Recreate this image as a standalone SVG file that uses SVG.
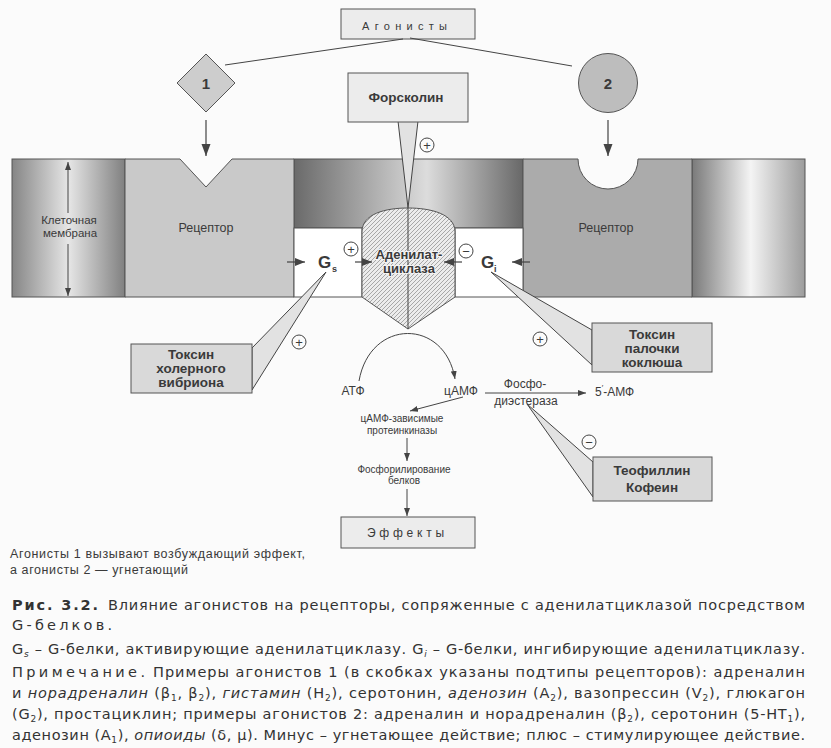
<svg xmlns="http://www.w3.org/2000/svg" width="831" height="748" viewBox="0 0 831 748">
<defs>
<style>
.t{font-family:"Liberation Sans",Arial,sans-serif;fill:#3a3a3a}
.b{font-weight:bold}
.box{fill:#ececec;stroke:#555;stroke-width:1}
.gbox{fill:#d9d9d9;stroke:#555;stroke-width:1}
.wedge{fill:#e2e2e2;stroke:#444;stroke-width:1}
.ln{stroke:#444;stroke-width:1;fill:none}
.edge{stroke:#444;stroke-width:1.2;fill:none}
.sym{fill:none;stroke:#444;stroke-width:1}
.cap{font-family:"DejaVu Sans","Liberation Sans",Arial,sans-serif;font-size:14.5px;fill:#333}
.tox{font-size:13.5px;font-weight:bold;text-anchor:middle}
</style>
<linearGradient id="gL" x1="0" x2="1" y1="0" y2="0">
<stop offset="0" stop-color="#858585"/><stop offset="0.5" stop-color="#e6e6e6"/><stop offset="1" stop-color="#808080"/>
</linearGradient>
<linearGradient id="gM" x1="0" x2="1" y1="0" y2="0">
<stop offset="0" stop-color="#6a6a6a"/><stop offset="0.58" stop-color="#dcdcdc"/><stop offset="1" stop-color="#686868"/>
</linearGradient>
<linearGradient id="gR" x1="0" x2="1" y1="0" y2="0">
<stop offset="0" stop-color="#7a7a7a"/><stop offset="0.52" stop-color="#f4f4f4"/><stop offset="1" stop-color="#9c9c9c"/>
</linearGradient>
<pattern id="hatch" width="4" height="4" patternUnits="userSpaceOnUse">
<rect width="4" height="4" fill="#ececec"/>
<path d="M-1,1 L1,-1 M0,4 L4,0 M3,5 L5,3" stroke="#8a8a8a" stroke-width="0.7"/>
</pattern>
<marker id="big" markerUnits="userSpaceOnUse" markerWidth="12" markerHeight="18" refX="16" refY="6" orient="auto" viewBox="0 0 16 12">
<path d="M0,0 L16,6 L0,12 Z" fill="#444"/>
</marker>
<marker id="mid" markerUnits="userSpaceOnUse" markerWidth="10" markerHeight="8" refX="10" refY="4" orient="auto" viewBox="0 0 10 8">
<path d="M0,0 L10,4 L0,8 Z" fill="#444"/>
</marker>
<marker id="sm" markerUnits="userSpaceOnUse" markerWidth="8" markerHeight="6" refX="8" refY="3" orient="auto" viewBox="0 0 8 6">
<path d="M0,0 L8,3 L0,6 Z" fill="#444"/>
</marker>
</defs>
<rect width="831" height="748" fill="#fbfbfb"/>

<g id="membrane">
<rect id="membrane-left" x="12" y="159" width="113" height="138" fill="url(#gL)" stroke="#555"/>
<rect id="membrane-mid" x="294" y="159" width="229" height="69" fill="url(#gM)" stroke="#555"/>
<rect id="membrane-right" x="692" y="159" width="113" height="138" fill="url(#gR)" stroke="#555"/>
<text class="t" x="69" y="224" font-size="11.5" text-anchor="middle">Клеточная</text>
<text class="t" x="70" y="237" font-size="11.5" text-anchor="middle">мембрана</text>
</g>

<g id="receptor1">
<path d="M125,159 L180,159 L206,187 L232,159 L294,159 L294,297 L125,297 Z" fill="#c9c9c9" stroke="#555"/>
<text class="t" x="206" y="232" font-size="12.5" text-anchor="middle">Рецептор</text>
</g>

<g id="receptor2">
<path d="M523,159 L578,159 A30,30 0 0 0 638,159 L692,159 L692,297 L523,297 Z" fill="#ababab" stroke="#555"/>
<text class="t" x="606" y="232" font-size="12.5" text-anchor="middle">Рецептор</text>
</g>

<g id="gs">
<rect x="294" y="228" width="68" height="69" fill="#ffffff" stroke="#555"/>
<text class="t b" x="318" y="268" font-size="17">G</text>
<text class="t b" x="332" y="272" font-size="9">s</text>
</g>

<g id="gi">
<rect x="455" y="228" width="68" height="69" fill="#ffffff" stroke="#555"/>
<text class="t b" x="481" y="268" font-size="17">G</text>
<text class="t b" x="494" y="272" font-size="9">i</text>
</g>

<g id="forskolin">
<path class="wedge" d="M398,121 L418,121 L408,208 Z"/>
<rect class="box" x="348" y="73" width="120" height="49"/>
<text class="t b" x="406" y="102" font-size="13.5" text-anchor="middle">Форсколин</text>
</g>

<g id="adenylate-cyclase">
<path d="M362,297 L362,232 C362,214 385,208 408,208 C431,208 455,214 455,232 L455,297 L408,329 Z" fill="url(#hatch)" stroke="#555"/>
<line x1="408" y1="208" x2="408" y2="329" stroke="#444" stroke-width="1"/>
<text class="t b" x="409" y="259" font-size="13" text-anchor="middle" stroke="#f4f4f4" stroke-width="2" paint-order="stroke">Аденилат-</text>
<text class="t b" x="409" y="273" font-size="13" text-anchor="middle" stroke="#f4f4f4" stroke-width="2" paint-order="stroke">циклаза</text>
</g>

<g id="agonists">
<rect class="box" x="341" y="9" width="134" height="30"/>
<text class="t" x="362" y="30" font-size="11" textLength="85" lengthAdjust="spacing">Агонисты</text>
</g>

<g id="agonist1">
<path d="M206,54 L235,83 L206,112 L177,83 Z" fill="#cdcdcd" stroke="#555"/>
<text class="t b" x="206" y="89" font-size="15" text-anchor="middle">1</text>
</g>

<g id="agonist2">
<circle cx="608" cy="83" r="29.5" fill="#bdbdbd" stroke="#555"/>
<text class="t b" x="608" y="89" font-size="15" text-anchor="middle">2</text>
</g>

<g id="toxin-cholera">
<path class="wedge" d="M326,272 L252,348 L252,390 Z"/>
<rect class="gbox" x="131" y="344" width="121" height="49"/>
<text class="t tox" x="191" y="359">Токсин</text>
<text class="t tox" x="191" y="373">холерного</text>
<text class="t tox" x="191" y="387">вибриона</text>
</g>

<g id="toxin-pertussis">
<path class="wedge" d="M491,272 L592,330 L592,365 Z"/>
<rect class="gbox" x="592" y="323" width="120" height="49"/>
<text class="t tox" x="652" y="339">Токсин</text>
<text class="t tox" x="652" y="353">палочки</text>
<text class="t tox" x="652" y="367">коклюша</text>
</g>

<g id="theophylline">
<path class="wedge" d="M527,404 L593,462 L593,497 Z"/>
<rect class="gbox" x="593" y="457" width="119" height="44"/>
<text class="t tox" x="652" y="475" font-size="14">Теофиллин</text>
<text class="t tox" x="652" y="492" font-size="14">Кофеин</text>
</g>

<g id="atp"><text class="t" x="353" y="395" font-size="12" text-anchor="middle">АТФ</text></g>
<g id="camp"><text class="t" x="461" y="395" font-size="12" text-anchor="middle">цАМФ</text></g>
<g id="amp5"><text class="t" x="595" y="396" font-size="12">5<tspan dy="-6" font-size="8">′</tspan><tspan dy="6">-АМФ</tspan></text></g>
<g id="pde">
<text class="t" x="525" y="388" font-size="12" text-anchor="middle">Фосфо-</text>
<text class="t" x="526" y="405" font-size="12" text-anchor="middle">диэстераза</text>
</g>
<g id="pka">
<text class="t" x="402" y="422" font-size="10" text-anchor="middle">цАМФ-зависимые</text>
<text class="t" x="402" y="434" font-size="10" text-anchor="middle">протеинкиназы</text>
</g>
<g id="phosph">
<text class="t" x="404" y="473" font-size="10" text-anchor="middle">Фосфорилирование</text>
<text class="t" x="404" y="484" font-size="10" text-anchor="middle">белков</text>
</g>
<g id="effects">
<rect class="box" x="341" y="517" width="134" height="31" fill="#e2e2e2"/>
<text class="t" x="367" y="537" font-size="12" textLength="77" lengthAdjust="spacing">Эффекты</text>
</g>

<g id="signs">
<circle class="sym" cx="427" cy="145" r="7"/><text class="t" x="427" y="149.5" font-size="13" text-anchor="middle">+</text>
<circle class="sym" cx="351" cy="249" r="7"/><text class="t" x="351" y="253.5" font-size="13" text-anchor="middle">+</text>
<circle class="sym" cx="466" cy="251" r="7"/><text class="t" x="466" y="255.5" font-size="13" text-anchor="middle">−</text>
<circle class="sym" cx="299" cy="342" r="7"/><text class="t" x="299" y="346.5" font-size="13" text-anchor="middle">+</text>
<circle class="sym" cx="540" cy="339" r="7"/><text class="t" x="540" y="343.5" font-size="13" text-anchor="middle">+</text>
<circle class="sym" cx="589" cy="442" r="7"/><text class="t" x="589" y="446.5" font-size="13" text-anchor="middle">−</text>
</g>

<g id="connectors">
<line class="ln" x1="403" y1="39" x2="225" y2="65"/>
<line class="ln" x1="410" y1="38" x2="572" y2="66"/>
<line class="edge" x1="206" y1="120" x2="206" y2="156" marker-end="url(#big)"/>
<line class="edge" x1="608" y1="120" x2="608" y2="156" marker-end="url(#big)"/>
<line class="ln" x1="68" y1="213" x2="68" y2="162" marker-end="url(#sm)"/>
<line class="ln" x1="68" y1="244" x2="68" y2="296" marker-end="url(#sm)"/>
<line class="edge" x1="287" y1="262" x2="305" y2="262" marker-end="url(#mid)"/>
<line class="edge" x1="355" y1="262" x2="372" y2="262" marker-end="url(#mid)"/>
<line class="edge" x1="462" y1="262" x2="444" y2="262" marker-end="url(#mid)"/>
<line class="edge" x1="530" y1="262" x2="512" y2="262" marker-end="url(#mid)"/>
<path class="ln" d="M359,381 C370,318 445,318 455,379" marker-end="url(#sm)"/>
<line class="ln" x1="485" y1="393" x2="586" y2="393" marker-end="url(#sm)"/>
<line class="ln" x1="463" y1="397" x2="410" y2="411" marker-end="url(#sm)"/>
<line class="ln" x1="407" y1="438" x2="407" y2="461" marker-end="url(#sm)"/>
<line class="ln" x1="407" y1="489" x2="407" y2="516" marker-end="url(#sm)"/>
</g>

<g id="legend">
<text class="t" x="10" y="558" font-size="12.5" textLength="295" lengthAdjust="spacing">Агонисты 1 вызывают возбуждающий эффект,</text>
<text class="t" x="10" y="574" font-size="12.5" textLength="178" lengthAdjust="spacing">а агонисты 2 — угнетающий</text>
</g>

<g id="caption">
<text class="cap b" x="12" y="610" font-size="15.5" textLength="86" lengthAdjust="spacing">Рис. 3.2.</text>
<text class="cap" x="108" y="610" textLength="697" lengthAdjust="spacing">Влияние агонистов на рецепторы, сопряженные с аденилатциклазой посредством</text>
<text class="cap" x="12" y="630" font-size="15" textLength="100" lengthAdjust="spacing">G-белков.</text>
<text class="cap" x="12" y="654" textLength="793" lengthAdjust="spacing">G<tspan dy="3" font-size="9" font-style="italic">s</tspan><tspan dy="-3"> – G-белки, активирующие аденилатциклазу. G</tspan><tspan dy="3" font-size="9" font-style="italic">i</tspan><tspan dy="-3"> – G-белки, ингибирующие аденилатциклазу.</tspan></text>
<text class="cap" x="12" y="677" textLength="133" lengthAdjust="spacing">Примечание.</text>
<text class="cap" x="153" y="677" textLength="652" lengthAdjust="spacing">Примеры агонистов 1 (в скобках указаны подтипы рецепторов): адреналин</text>
<text class="cap" x="12" y="698" textLength="793" lengthAdjust="spacing">и <tspan font-style="italic">норадреналин</tspan> (β<tspan dy="3" font-size="9">1</tspan><tspan dy="-3">, β</tspan><tspan dy="3" font-size="9">2</tspan><tspan dy="-3">), </tspan><tspan font-style="italic">гистамин</tspan> (H<tspan dy="3" font-size="9">2</tspan><tspan dy="-3">), серотонин, </tspan><tspan font-style="italic">аденозин</tspan> (A<tspan dy="3" font-size="9">2</tspan><tspan dy="-3">), вазопрессин (V</tspan><tspan dy="3" font-size="9">2</tspan><tspan dy="-3">), глюкагон</tspan></text>
<text class="cap" x="12" y="719" textLength="793" lengthAdjust="spacing">(G<tspan dy="3" font-size="9">2</tspan><tspan dy="-3">), простациклин; примеры агонистов 2: адреналин и норадреналин (β</tspan><tspan dy="3" font-size="9">2</tspan><tspan dy="-3">), серотонин (5-HT</tspan><tspan dy="3" font-size="9">1</tspan><tspan dy="-3">),</tspan></text>
<text class="cap" x="12" y="740" textLength="793" lengthAdjust="spacing">аденозин (A<tspan dy="3" font-size="9">1</tspan><tspan dy="-3">), </tspan><tspan font-style="italic">опиоиды</tspan> (δ, μ). Минус – угнетающее действие; плюс – стимулирующее действие.</text>
</g>
</svg>
